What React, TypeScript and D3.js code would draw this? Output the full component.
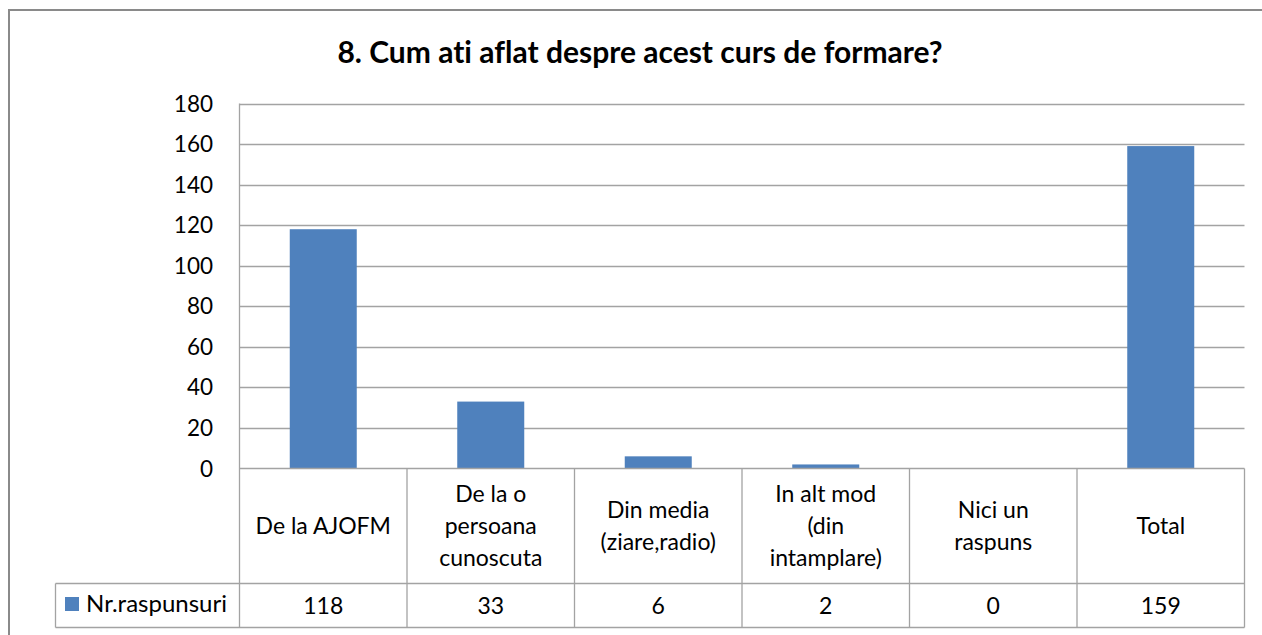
import * as d3 from 'd3';

// data
const categories = [
  "De la AJOFM",
  "De la o persoana cunoscuta",
  "Din media (ziare,radio)",
  "In alt mod (din intamplare)",
  "Nici un raspuns",
  "Total",
];
const categoryLines = [
  ["De la AJOFM"],
  ["De la o", "persoana", "cunoscuta"],
  ["Din media", "(ziare,radio)"],
  ["In alt mod", "(din", "intamplare)"],
  ["Nici un", "raspuns"],
  ["Total"],
];
const values = [118, 33, 6, 2, 0, 159];
const seriesName = "Nr.raspunsuri";
const yDomain = [0, 180];
const title = "8. Cum ati aflat despre acest curs de formare?";

const W = 1262;
const H = 635;
const plot = { left: 239.5, right: 1244.5, top: 103.5, bottom: 468.5 };
const rowCatBottom = 583.5;
const rowValBottom = 627.5;
const legendLeft = 55.5;
const FONT = "Lato, 'Open Sans', sans-serif";
const BLUE = "#4F81BD";
const GRID = "#A3A3A3";

export default function App() {
  const x = d3.scaleBand<string>()
    .domain(categories)
    .range([plot.left, plot.right])
    .paddingInner(0)
    .paddingOuter(0);

  const y = d3.scaleLinear()
    .domain(yDomain)
    .range([plot.bottom, plot.top]);

  const ticks = y.ticks(9);
  const barW = x.bandwidth() * 0.4;
  const lineH = 32;
  const catMid = (plot.bottom + rowCatBottom) / 2;

  return (
    <svg
      width={W}
      height={H}
      style={{ position: 'absolute', left: 0, top: 0, background: '#fff', fontVariantLigatures: 'none' }}
      fontFamily={FONT}
    >
      {/* outer frame */}
      <rect x={9} y={10} width={1300} height={700} fill="none" stroke="#8A8A8A" strokeWidth={2} />

      <text x={640} y={63} textAnchor="middle" fontSize={30} fontWeight="bold" fill="#000">
        {title}
      </text>

      {/* gridlines */}
      {ticks.filter(t => t > 0).map(t => (
        <line key={t} x1={plot.left} x2={plot.right} y1={Math.round(y(t)) + 0.5} y2={Math.round(y(t)) + 0.5}
          stroke={GRID} strokeWidth={1.3} />
      ))}

      {/* y tick labels */}
      {ticks.map(t => (
        <text key={t} x={213} y={y(t)} dy="0.36em" textAnchor="end" fontSize={22.5} fill="#000">
          {t}
        </text>
      ))}

      {/* bars */}
      {values.map((v, i) => (
        <rect
          key={categories[i]}
          x={(x(categories[i]) ?? 0) + (x.bandwidth() - barW) / 2}
          y={y(v)}
          width={barW}
          height={plot.bottom - y(v)}
          fill={BLUE}
        />
      ))}

      {/* axis + data table lines */}
      <line x1={plot.left} x2={plot.left} y1={plot.top} y2={rowValBottom} stroke={GRID} strokeWidth={1.3} />
      <line x1={plot.left} x2={plot.right} y1={plot.bottom} y2={plot.bottom} stroke={GRID} strokeWidth={1.3} />
      <line x1={legendLeft} x2={plot.right} y1={rowCatBottom} y2={rowCatBottom} stroke={GRID} strokeWidth={1.3} />
      <line x1={legendLeft} x2={plot.right} y1={rowValBottom} y2={rowValBottom} stroke={GRID} strokeWidth={1.3} />
      <line x1={legendLeft} x2={legendLeft} y1={rowCatBottom} y2={rowValBottom} stroke={GRID} strokeWidth={1.3} />
      {categories.map(c => (
        <line key={c} x1={(x(c) ?? 0) + x.bandwidth()} x2={(x(c) ?? 0) + x.bandwidth()}
          y1={plot.bottom} y2={rowValBottom} stroke={GRID} strokeWidth={1.3} />
      ))}

      {/* category labels */}
      {categoryLines.map((lines, i) => {
        const cx = (x(categories[i]) ?? 0) + x.bandwidth() / 2;
        const y0 = catMid - ((lines.length - 1) * lineH) / 2;
        return (
          <text key={categories[i]} x={cx} textAnchor="middle" fontSize={23} fill="#000">
            {lines.map((l, j) => (
              <tspan key={j} x={cx} y={y0 + j * lineH + 8}>{l}</tspan>
            ))}
          </text>
        );
      })}

      {/* value row */}
      <rect x={65} y={597} width={14} height={14} fill={BLUE} />
      <text x={86} y={612} fontSize={24} fill="#000">{seriesName}</text>
      {values.map((v, i) => (
        <text key={categories[i]} x={(x(categories[i]) ?? 0) + x.bandwidth() / 2} y={614}
          textAnchor="middle" fontSize={23} fill="#000">
          {v}
        </text>
      ))}
    </svg>
  );
}
